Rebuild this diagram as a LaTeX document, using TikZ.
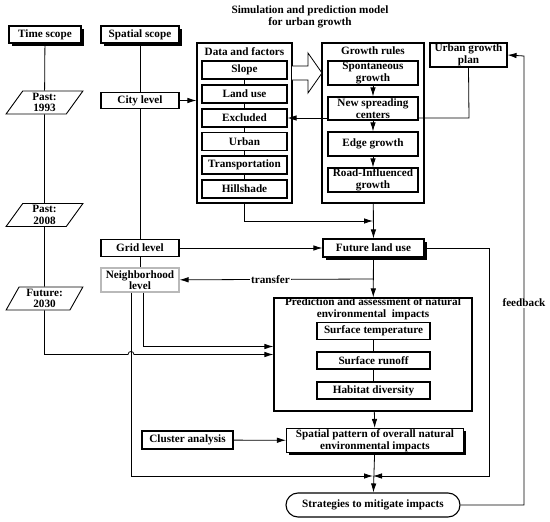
\documentclass[tikz,border=0pt]{standalone}
\usepackage{fontspec}
\setmainfont{Liberation Serif}
\usepackage{tikz}
\usetikzlibrary{shapes.geometric}
\usetikzlibrary{shadows}
\usetikzlibrary{arrows.meta}
\tikzset{
    txt/.style={font=\bfseries\fontsize{11.2}{11.6}\selectfont, align=center},
    box/.style={txt, draw, fill=white, line width=1.1pt, inner sep=0pt},
    shbox/.style={box, drop shadow={shadow xshift=2.5pt, shadow yshift=-2.5pt, fill=black, opacity=1}},
    wh/.style 2 args={minimum width=#1pt, minimum height=#2pt},
    period/.style={txt, draw, fill=white, line width=0.9pt, inner sep=0pt,
        trapezium, trapezium left angle=64, trapezium right angle=116,
        trapezium stretches=true, minimum width=77pt, minimum height=23pt},
    arr/.style={-{Latex[length=9pt,width=5.5pt]}}
}

\begin{document}
\begin{tikzpicture}[x=1pt, y=-1pt, every path/.style={line width=0.8pt}]
	\useasboundingbox (0,0) rectangle (550,522);
	\node[txt] (title) at (310,17) {Simulation and prediction model\\for urban growth};

	% scopes
	\node[shbox, wh={72}{17}] (time) at (45,34.5) {Time scope};
	\node[shbox, wh={78}{17}] (spatial) at (140,34.5) {Spatial scope};
	\node[period] (p1993) at (44.5,102.5) {Past:\\1993};
	\node[period] (p2008) at (44.5,215) {Past:\\2008};
	\node[period] (f2030) at (44.5,298.5) {Future:\\2030};
	\node[box, wh={78}{16}] (city) at (140,100.5) {City level};
	\node[box, wh={78}{17}] (grid) at (140,248) {Grid level};
	\node[box, draw=gray!55, wh={78}{24}] (neigh) at (140,280) {Neighborhood\\level};

	% data and factors
	\node[box, wh={95}{160}] (data) at (244.5,123) {};
	\node[txt] (datat) at (244.5,52) {Data and factors};
	\node[box, wh={85}{18}] (slope) at (244.5,70) {Slope};
	\node[box, wh={85}{18}] (land) at (244.5,94) {Land use};
	\node[box, wh={85}{18}] (excl) at (244.5,118) {Excluded};
	\node[box, wh={85}{18}] (urban) at (244.5,141.5) {Urban};
	\node[box, wh={85}{18}] (trans) at (244.5,165) {Transportation};
	\node[box, wh={85}{18}] (hill) at (244.5,189) {Hillshade};

	% growth rules
	\node[box, wh={102}{160}] (growth) at (373,123) {};
	\node[txt] (growtht) at (373,51) {Growth rules};
	\node[box, wh={90}{24}] (spont) at (373,73) {Spontaneous\\growth};
	\node[box, wh={90}{23}] (nsc) at (373,108.5) {New spreading\\centers};
	\node[box, wh={90}{24}] (edge) at (373,144) {Edge growth};
	\node[box, wh={90}{24}] (road) at (373,180) {Road-Influenced\\growth};
	\node[box, wh={77}{24}] (plan) at (468.5,55) {Urban growth\\plan};

	\coordinate (A) at (292,66);
	\coordinate (B) at (308,66);
	\coordinate (C) at (308,53);
	\coordinate (D) at (322,73);
	\draw[fill=white] (A) -- (B) -- (C) -- (D) -- (308,93) -- (308,80) -- (292,80);

	% prediction
	\node[shbox, wh={101}{18}] (flu) at (373.5,248) {Future land use};
	\node[box, wh={198}{113}] (pred) at (373,354.5) {};
	\node[txt] (predt) at (373,309) {Prediction and assessment of natural\\environmental\ \ impacts};
	\node[box, wh={113}{17}] (temp) at (373.5,331) {Surface temperature};
	\node[box, wh={113}{17}] (runoff) at (373.5,360.5) {Surface runoff};
	\node[box, wh={113}{17}] (habit) at (373.5,390.5) {Habitat diversity};
	\node[shbox, wh={177}{24}] (spat) at (375,440.5) {Spatial pattern of overall natural\\environmental impacts};
	\node[box, wh={91}{18}] (clust) at (187.5,440) {Cluster analysis};
	\node[box, rounded corners=12pt, wh={174}{24}] (strat) at (373,505) {Strategies to mitigate impacts};

	\coordinate (dj) at (373,221);
	\coordinate (pl) at (469,118);
	\coordinate (tr) at (373,279);
	\coordinate (meet) at (373,476);
	\coordinate (fr) at (489,476);
	\coordinate (hopa) at (128,354.5);
	\coordinate (hopb) at (134,354.5);
	\coordinate (fb1) at (524,505);
	\coordinate (fb2) at (524,56);

	% lines
	\draw (time) -- (p1993) -- (p2008) -- (f2030);
	\draw (spatial) -- (city) -- (grid) -- (neigh);
	\draw (slope) -- (land) -- (excl) -- (urban) -- (trans) -- (hill);
	\draw (temp) -- (runoff) -- (habit);
	\draw (plan.south) -- (pl) -- (pl -| nsc.east);

	% arrows
	\draw[arr] (city.east) -- (city.east -| data.west);
	\draw[arr] (pl -| nsc.west) -- (excl.east);
	\draw[arr] (spont) -- (nsc);
	\draw[arr] (nsc) -- (edge);
	\draw[arr] (edge) -- (road);
	\draw[arr] (data.south) |- (dj);
	\draw[arr] (growth) -- (flu);
	\draw[arr] (grid) -- (flu);
	\draw[arr] (flu) -- (pred);
	\draw[arr] (tr) -- node[txt, fill=white, inner sep=1pt, pos=0.53] {transfer} (neigh);
	\draw[arr] ([xshift=3pt]neigh.south) |- ([yshift=8pt]pred.west);
	\draw[arr] (f2030.south) |- (hopa) .. controls +(0,-4) and +(0,-4) .. (hopb) -- (pred.west);
	\draw[arr] ([xshift=-9pt]neigh.south) |- (meet);
	\draw[arr] (flu.east) -| (fr) -- (meet);
	\draw[arr] (pred) -- (spat);
	\draw[arr] (clust) -- (spat);
	\draw[arr] (spat) -- (strat);
	\draw[arr] (strat.east) -- (fb1) -- node[txt, fill=white, inner sep=1pt, pos=0.45] {feedback} (fb2) -- (plan.east);
\end{tikzpicture}
\end{document}
